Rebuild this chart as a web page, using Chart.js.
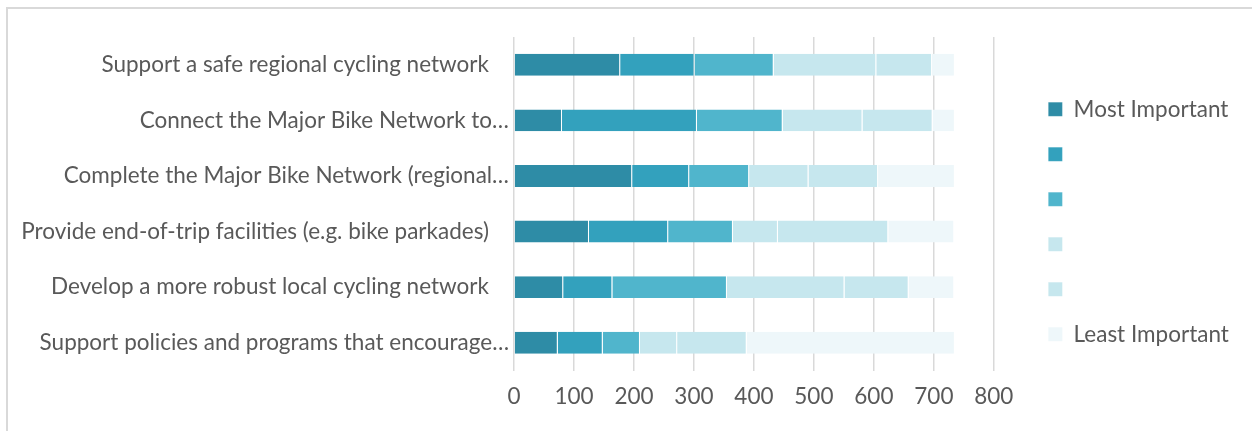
<!DOCTYPE html>
<html>
<head>
<meta charset="utf-8">
<script src="https://cdn.jsdelivr.net/npm/chart.js@4.4.1/dist/chart.umd.min.js"></script>
<style>
  html, body { margin: 0; padding: 0; background: #fff; }
  #wrap { position: relative; width: 1252px; height: 431px; overflow: hidden; }
  #frame { position: absolute; left: 6px; top: 7px; width: 1400px; height: 600px;
           border-left: 2px solid #d9d9d9; border-top: 2px solid #d9d9d9; }
  #rankChart { position: absolute; left: 0; top: 0; }
</style>
</head>
<body>
<div id="wrap">
  <div id="frame"></div>
  <canvas id="rankChart" width="1252" height="431"></canvas>
</div>
<script>
// priorities, top to bottom
const categories = [
    'Support a safe regional cycling network   \u2009',
    'Connect the Major Bike Network to…',
    'Complete the Major Bike Network (regional…',
    'Provide end-of-trip facilities (e.g. bike parkades)   \u2009',
    'Develop a more robust local cycling network   \u2009',
    'Support policies and programs that encourage…'
];

// number of respondents giving each rank
const rank1 = [177, 80, 197, 125, 82, 73];
const rank2 = [124, 225, 95, 132, 82, 75];
const rank3 = [132, 143, 100, 108, 191, 62];
const rank4 = [171, 133, 99, 75, 196, 62];
const rank5 = [93, 117, 116, 184, 107, 116];
const rank6 = [38, 37, 128, 110, 76, 347];

const rankNames = ['Most Important', '', '', '', '', 'Least Important'];
const rankColors = ['#2E8CA6', '#33A1BD', '#50B5CC', '#C6E7EE', '#C6E7EE', '#EEF7FA'];
const xTicks = [0, 100, 200, 300, 400, 500, 600, 700, 800];

const txtColor = '#595959';
const font = { family: 'Lato, "Noto Sans", sans-serif', size: 22.5 };

var datasets = [rank1, rank2, rank3, rank4, rank5, rank6].map(function (vals, i) {
    return {
        label: rankNames[i],
        data: vals,
        backgroundColor: rankColors[i],
        borderColor: 'rgba(255,255,255,0.45)',
        borderWidth: { top: 0, bottom: 0, left: 0, right: 1 },
        borderSkipped: false,
        barPercentage: 0.79,
        categoryPercentage: 0.5
    };
});

// blank axis used only to reserve space
function spacer(pos, size) {
    return {
        position: pos,
        grid: { display: false },
        border: { display: false },
        ticks: { display: false },
        afterFit: function (scale) {
            if (pos === 'top') scale.height = size; else scale.width = size;
        }
    };
}

var ctx = document.getElementById('rankChart').getContext('2d');
var chart = new Chart(ctx, {
    type: 'bar',
    data: { labels: categories, datasets: datasets },
    options: {
        indexAxis: 'y',
        responsive: false,
        animation: false,
        layout: { padding: { top: 20, bottom: 7.5, left: 0, right: 21 } },
        plugins: {
            tooltip: { enabled: false },
            legend: {
                position: 'right',
                labels: {
                    color: txtColor,
                    font: font,
                    boxWidth: 14,
                    boxHeight: 14,
                    padding: 22.5
                }
            }
        },
        scales: {
            x: {
                stacked: true,
                min: 0,
                max: 800,
                afterBuildTicks: function (scale) {
                    scale.ticks = xTicks.map(v => ({ value: v }));
                },
                grid: { color: '#d9d9d9', lineWidth: 1.5, drawTicks: false },
                border: { display: false },
                ticks: { color: txtColor, font: font, padding: 13 }
            },
            y: {
                stacked: true,
                grid: { display: false },
                border: { display: false },
                ticks: { color: txtColor, font: font, padding: -3 },
                afterFit: function (scale) { scale.width = 514; }
            },
            gapTop: Object.assign({ axis: 'x' }, spacer('top', 17)),
            gapRight: Object.assign({ axis: 'y' }, spacer('right', 32))
        }
    }
});
</script>
</body>
</html>
